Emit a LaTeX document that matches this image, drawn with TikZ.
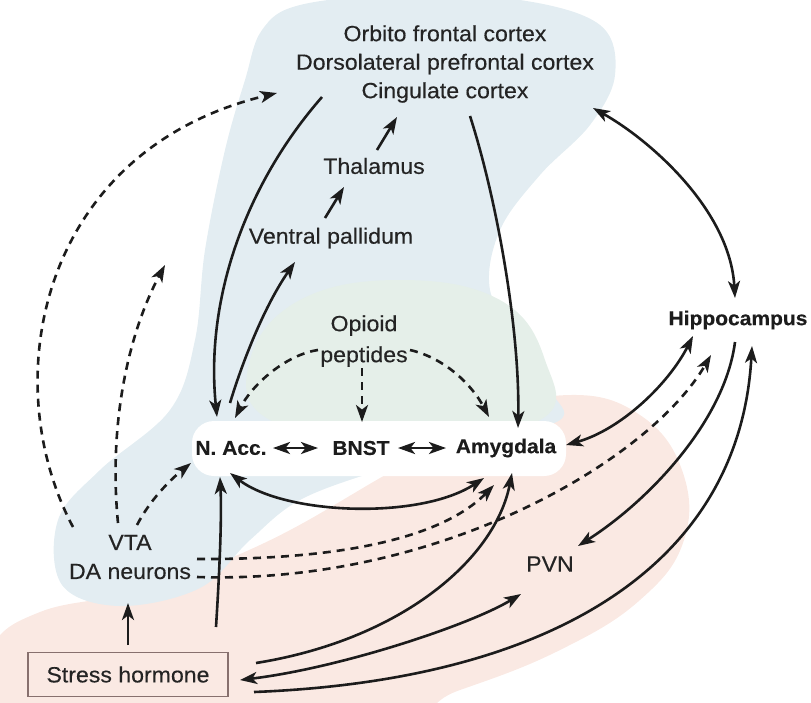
\documentclass[tikz,border=0pt]{standalone}
\usepackage{fontspec}
\setmainfont[FakeStretch=1.05, FakeBold=0.35]{Liberation Sans}
\usetikzlibrary{arrows.meta}

\definecolor{bgblue}{RGB}{227,237,242}
\definecolor{bgpink}{RGB}{250,233,227}
\definecolor{bggreen}{RGB}{229,239,233}
\definecolor{ink}{RGB}{28,28,28}
\definecolor{txt}{RGB}{36,36,36}
\definecolor{boxline}{RGB}{135,112,110}

\tikzset{
  lbl/.style={text=txt, inner sep=0pt, align=center,
              font=\fontsize{22}{28.5}\selectfont},
  key/.style={text=ink, inner sep=0pt, align=center,
              font=\bfseries\fontsize{20}{24}\selectfont},
  headtip/.tip={Stealth[length=17pt,width=12pt,inset=4.5pt]},
  link/.style={draw=ink, line width=2.6pt, -headtip},
  twoway/.style={draw=ink, line width=2.6pt, headtip-headtip},
  dlink/.style={link, dash pattern=on 8pt off 6pt},
}

\begin{document}
\begin{tikzpicture}[x=1pt, y=-1pt]
\useasboundingbox (0,0) rectangle (811,702);

% --- soft background regions ---
\fill[bgpink] plot[smooth cycle, tension=0.7] coordinates {
  (-20,720) (-10,650) (40,612) (140,590) (260,545) (380,478) (480,418)
  (570,395) (640,415) (682,470) (684,540) (640,600) (560,650) (460,690) (360,720)};
\fill[bgblue] plot[smooth cycle, tension=0.6] coordinates {
  (262,30) (300,5) (400,-5) (520,0) (600,25) (615,75) (590,125) (540,175)
  (500,230) (490,290) (520,340) (550,390) (560,420) (480,440) (380,470)
  (300,500) (250,540) (200,588) (120,606) (62,585) (58,520) (100,470)
  (170,410) (195,340) (205,250) (225,150) (245,80)};
\fill[bggreen] plot[smooth cycle, tension=0.7] coordinates {
  (300,300) (400,280) (500,300) (545,360) (540,420) (400,440) (270,420) (250,360)};
\fill[white, rounded corners=22pt] (192,421) rectangle (566,476);

% --- regions ---
\node[lbl] (ctx) at (445,64) {Orbito frontal cortex\\Dorsolateral prefrontal cortex\\Cingulate cortex};
\node[lbl] (thal) at (374,166) {Thalamus};
\node[lbl] (vp) at (331,238) {Ventral pallidum};
\node[lbl, font=\fontsize{22}{31}\selectfont] (opi) at (364,341) {Opioid\\peptides};
\node[key] (hip) at (738,320) {Hippocampus};
\node[key] (nacc) at (231,448) {N. Acc.};
\node[key] (bnst) at (361,448) {BNST};
\node[key] (amy) at (506,448) {Amygdala};
\node[lbl, font=\fontsize{22}{29}\selectfont] (vta) at (130,557) {VTA\\DA neurons};
\node[lbl] (pvn) at (550,564) {PVN};
\node[lbl, draw=boxline, line width=1.3pt, fill=bgpink, minimum width=200pt,
      minimum height=44pt] (stress) at (128,674.5) {Stress hormone};

% --- connector end points ---
\coordinate (vtaOut) at (73,527);
\coordinate (vtaMid) at (118,523);
\coordinate (vtaUp) at (137,525);
\coordinate (daA) at (197,559);
\coordinate (daB) at (197,577);
\coordinate (ctxDash) at (277,93);
\coordinate (upDash) at (165,265);
\coordinate (ctxA) at (322,97);
\coordinate (ctxB) at (470,116);
\coordinate (ctxC) at (593,108);
\coordinate (naccN) at (217,417);
\coordinate (naccNE) at (235,418);
\coordinate (naccUp) at (230,403);
\coordinate (naccSW) at (191,463);
\coordinate (naccS) at (220,477);
\coordinate (naccSE) at (230,473);
\coordinate (naccE) at (273,448);
\coordinate (bnstW) at (318,448);
\coordinate (bnstE) at (398,448);
\coordinate (bnstN) at (362,422);
\coordinate (amyW) at (446,448);
\coordinate (amyNW) at (489,417);
\coordinate (amyN) at (518,428);
\coordinate (amyE) at (566,445);
\coordinate (amyS1) at (484,478);
\coordinate (amyS2) at (494,485);
\coordinate (amyS3) at (512,473);
\coordinate (vpS) at (295,262);
\coordinate (vpN) at (325,218);
\coordinate (thalS) at (344,187);
\coordinate (thalN) at (377,150);
\coordinate (ctxS) at (397,117);
\coordinate (opiL) at (318,350);
\coordinate (opiM) at (362,368);
\coordinate (opiR) at (410,350);
\coordinate (hipN) at (735,298);
\coordinate (hipA) at (693,336);
\coordinate (hipB) at (711,355);
\coordinate (hipC) at (735,342);
\coordinate (hipD) at (752,346);
\coordinate (pvnNE) at (578,546);
\coordinate (pvnSW) at (521,594);
\coordinate (stN1) at (128,645);
\coordinate (vtaS) at (128,603);
\coordinate (stN2) at (216,627);
\coordinate (stE1) at (256,663);
\coordinate (stE2) at (240,680);
\coordinate (stE3) at (254,692);

% --- VTA projections ---
\draw[dlink] (vtaOut) .. controls (-5,380) and (40,150) .. (ctxDash);
\draw[dlink] (vtaMid) .. controls (108,420) and (130,330) .. (upDash);
\draw[dlink] (vtaUp) .. controls (150,500) and (170,480) .. (naccSW);
\draw[dlink] (daA) .. controls (380,560) and (455,525) .. (amyS2);
\draw[dlink] (daB) .. controls (440,585) and (650,460) .. (hipB);

% --- cortical loop ---
\draw[link] (ctxA) .. controls (245,185) and (205,300) .. (naccN);
\draw[link] (naccUp) .. controls (243,360) and (265,305) .. (vpS);
\draw[link] (vpN) -- (thalS);
\draw[link] (thalN) -- (ctxS);
\draw[link] (ctxB) .. controls (497,200) and (520,330) .. (amyN);
\draw[twoway] (ctxC) .. controls (650,140) and (730,210) .. (hipN);

% --- opioid peptides ---
\draw[dlink] (opiL) .. controls (285,355) and (252,385) .. (naccNE);
\draw[dlink] (opiM) -- (bnstN);
\draw[dlink] (opiR) .. controls (445,358) and (472,385) .. (amyNW);

% --- extended amygdala ---
\draw[twoway] (naccE) -- (bnstW);
\draw[twoway] (bnstE) -- (amyW);
\draw[twoway] (naccSE) .. controls (285,515) and (420,520) .. (amyS1);
\draw[twoway] (amyE) .. controls (620,430) and (668,385) .. (hipA);

% --- hippocampus / PVN / stress hormone ---
\draw[link] (hipC) .. controls (725,420) and (650,500) .. (pvnNE);
\draw[link] (stN1) -- (vtaS);
\draw[link] (stN2) .. controls (219,580) and (222,520) .. (naccS);
\draw[link] (stE1) .. controls (400,640) and (495,560) .. (amyS3);
\draw[twoway] (stE2) .. controls (340,668) and (470,625) .. (pvnSW);
\draw[link] (stE3) .. controls (560,680) and (740,560) .. (hipD);
\end{tikzpicture}
\end{document}
